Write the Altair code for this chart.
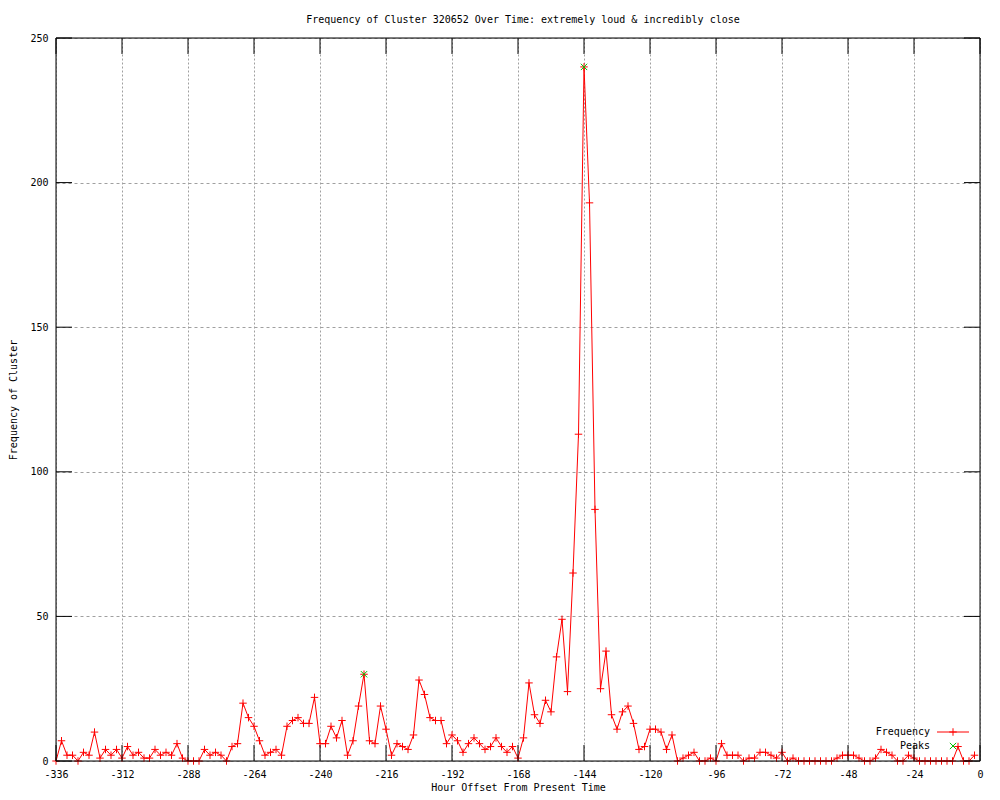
import altair as alt
import pandas as pd

# ---- data ----
hours = list(range(-336, 0, 2))
freq = [
    0, 7, 2, 2, 0, 3, 2, 10, 1, 4,        # -336 .. -318
    2, 4, 1, 5, 2, 3, 1, 1, 4, 2,         # -316 .. -298
    3, 2, 6, 1, 0, 0, 0, 4, 2, 3,         # -296 .. -278
    2, 0, 5, 6, 20, 15, 12, 7, 2, 3,      # -276 .. -258
    4, 2, 12, 14, 15, 13, 13, 22, 6, 6,   # -256 .. -238
    12, 8, 14, 2, 7, 19, 30, 7, 6, 19,    # -236 .. -218
    11, 2, 6, 5, 4, 9, 28, 23, 15, 14,    # -216 .. -198
    14, 6, 9, 7, 3, 6, 8, 6, 4, 5,        # -196 .. -178
    8, 5, 3, 5, 1, 8, 27, 16, 13, 21,     # -176 .. -158
    17, 36, 49, 24, 65, 113, 240, 193, 87, 25,  # -156 .. -138
    38, 16, 11, 17, 19, 13, 4, 5, 11, 11,  # -136 .. -118
    10, 4, 9, 0, 1, 2, 3, 0, 0, 1,        # -116 .. -98
    0, 6, 2, 2, 2, 0, 1, 1, 3, 3,         # -96 .. -78
    2, 1, 3, 0, 1, 0, 0, 0, 0, 0,         # -76 .. -58
    0, 0, 1, 2, 2, 2, 1, 0, 0, 1,         # -56 .. -38
    4, 3, 2, 0, 0, 2, 1, 0, 0, 0,         # -36 .. -18
    0, 0, 0, 0, 5, 0, 0, 2,               # -16 .. -2
]
peak_hours = [-224, -144]
peak_freq = [30, 240]
x_ticks = list(range(-336, 1, 24))
y_ticks = [0, 50, 100, 150, 200, 250]

TITLE = "Frequency of Cluster 320652 Over Time: extremely loud & incredibly close"
X_TITLE = "Hour Offset From Present Time"
Y_TITLE = "Frequency of Cluster"

# ---- style ----
FONT = "DejaVu Sans Mono"
FS = 10
RED = "#ff0000"
GREEN = "#00c000"
W, H = 924, 723
TICK = 16
PLUS = "M-1,0L1,0M0,-1L0,1"
CROSS = "M-1,-1L1,1M-1,1L1,-1"

df = pd.DataFrame({"hour": hours, "freq": freq})
peaks = pd.DataFrame({"hour": peak_hours, "freq": peak_freq})
xt = pd.DataFrame({"hour": x_ticks})
yt = pd.DataFrame({"freq": y_ticks})
one = pd.DataFrame({"k": [0]})

xs = alt.Scale(domain=[-336, 0], nice=False, zero=False)
ys = alt.Scale(domain=[0, 250], nice=False, zero=False)

x_axis = alt.Axis(
    values=x_ticks, grid=True, gridDash=[2, 2], gridColor="#a0a0a0", gridWidth=1,
    domain=False, ticks=False, labelPadding=8, labelFont=FONT, labelFontSize=FS,
    labelColor="black", labelExpr="'' + datum.value", labelFlush=False,
    title=X_TITLE, titleFont=FONT, titleFontSize=FS, titleFontWeight="normal",
    titleColor="black", titleX=W / 2, titleY=26, titleAlign="center",
    titleBaseline="middle",
)
y_axis = alt.Axis(
    values=y_ticks, grid=True, gridDash=[3, 3], gridColor="#a0a0a0", gridWidth=1,
    domain=False, ticks=False, labelPadding=8, labelFont=FONT, labelFontSize=FS,
    labelColor="black", labelExpr="'' + datum.value", labelFlush=False,
    title=Y_TITLE, titleFont=FONT, titleFontSize=FS, titleFontWeight="normal",
    titleColor="black", titleAngle=270, titleX=-43, titleY=H / 2,
    titleAlign="center", titleBaseline="middle",
)

X = alt.X("hour:Q", scale=xs, axis=x_axis)
Y = alt.Y("freq:Q", scale=ys, axis=y_axis)

base = alt.Chart(df).encode(x=X, y=Y)
line = base.mark_line(color=RED, strokeWidth=1)
pts = base.mark_point(shape=PLUS, filled=False, stroke=RED, strokeWidth=1,
                      size=56, opacity=1)
pk = alt.Chart(peaks).mark_point(shape=CROSS, filled=False, stroke=GREEN,
                                 strokeWidth=1, size=40, opacity=1).encode(x=X, y=Y)

# border (drawn in front, like gnuplot)
b_top = alt.Chart(one).mark_rule(color="black", strokeWidth=1).encode(
    x=alt.value(0), x2=alt.value(W), y=alt.value(0))
b_bot = alt.Chart(one).mark_rule(color="black", strokeWidth=1).encode(
    x=alt.value(0), x2=alt.value(W), y=alt.value(H))
b_left = alt.Chart(one).mark_rule(color="black", strokeWidth=1).encode(
    x=alt.value(0), y=alt.value(0), y2=alt.value(H))
b_right = alt.Chart(one).mark_rule(color="black", strokeWidth=1).encode(
    x=alt.value(W), y=alt.value(0), y2=alt.value(H))

# inward ticks on all four sides
tx_bot = alt.Chart(xt).mark_rule(color="black").encode(
    x=X, y=alt.value(H), y2=alt.value(H - TICK))
tx_top = alt.Chart(xt).mark_rule(color="black").encode(
    x=X, y=alt.value(0), y2=alt.value(TICK))
ty_left = alt.Chart(yt).mark_rule(color="black").encode(
    y=Y, x=alt.value(0), x2=alt.value(TICK))
ty_right = alt.Chart(yt).mark_rule(color="black").encode(
    y=Y, x=alt.value(W), x2=alt.value(W - TICK))

# key (gnuplot style: label, then sample)
LX, LY1, LY2 = 874, 694, 708
k_t1 = alt.Chart(one).mark_text(font=FONT, fontSize=FS, align="right",
                                baseline="middle", color="black").encode(
    x=alt.value(LX), y=alt.value(LY1), text=alt.value("Frequency"))
k_t2 = alt.Chart(one).mark_text(font=FONT, fontSize=FS, align="right",
                                baseline="middle", color="black").encode(
    x=alt.value(LX), y=alt.value(LY2), text=alt.value("Peaks"))
k_line = alt.Chart(one).mark_rule(color=RED, strokeWidth=1).encode(
    x=alt.value(881), x2=alt.value(913), y=alt.value(LY1))
k_plus = alt.Chart(one).mark_point(shape=PLUS, filled=False, stroke=RED,
                                   strokeWidth=1, size=56, opacity=1).encode(
    x=alt.value(897), y=alt.value(LY1))
k_cross = alt.Chart(one).mark_point(shape=CROSS, filled=False, stroke=GREEN,
                                    strokeWidth=1, size=40, opacity=1).encode(
    x=alt.value(897), y=alt.value(LY2))

chart = alt.layer(
    line, pts, pk,
    b_top, b_bot, b_left, b_right,
    tx_bot, tx_top, ty_left, ty_right,
    k_t1, k_t2, k_line, k_plus, k_cross,
).properties(
    width=W, height=H,
    autosize=alt.AutoSizeParams(type="none"),
    padding={"left": 48, "top": 30, "right": 12, "bottom": 31},
    title=alt.TitleParams(
        text=TITLE, font=FONT, fontSize=FS, fontWeight="normal", color="black",
        anchor="middle", frame="group", baseline="middle", offset=3, dx=5,
    ),
).configure_view(stroke=None).configure(background="white")

chart.save("out.html", embed_options={"renderer": "svg", "actions": False})
